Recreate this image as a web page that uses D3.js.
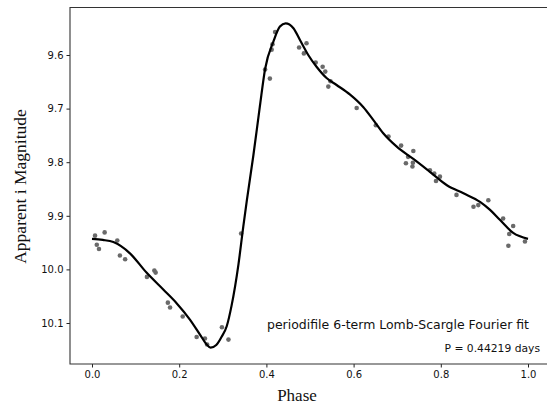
<!DOCTYPE html>
<html>
<head>
<meta charset="utf-8">
<script src="https://cdn.jsdelivr.net/npm/d3@7"></script>
<style>
  body { margin: 0; background: #fff; }
  svg { display: block; }
  .tick text { font-family: "DejaVu Sans", sans-serif; font-size: 10px; fill: #111; }
  .tick line { stroke: #222; }
</style>
</head>
<body>
<div id="chart"></div>
<script>
// observed phase / magnitude points
const obsPhase = [0.007, 0.011, 0.016, 0.029, 0.058, 0.064, 0.076, 0.126, 0.143, 0.146,
    0.174, 0.179, 0.208, 0.240, 0.259, 0.264, 0.298, 0.313, 0.342, 0.397,
    0.408, 0.412, 0.414, 0.420, 0.475, 0.492, 0.486, 0.513, 0.529, 0.535,
    0.542, 0.547, 0.607, 0.651, 0.680, 0.709, 0.737, 0.725, 0.720, 0.735,
    0.736, 0.775, 0.785, 0.798, 0.789, 0.836, 0.875, 0.886, 0.909, 0.943,
    0.966, 0.957, 0.955, 0.993];
const obsMag = [9.937, 9.954, 9.962, 9.931, 9.946, 9.974, 9.981, 10.014, 10.002, 10.006,
    10.062, 10.071, 10.088, 10.126, 10.129, 10.140, 10.108, 10.131, 9.933, 9.627,
    9.644, 9.590, 9.580, 9.557, 9.586, 9.578, 9.597, 9.614, 9.622, 9.631,
    9.659, 9.649, 9.699, 9.731, 9.752, 9.769, 9.779, 9.790, 9.802, 9.808,
    9.801, 9.815, 9.821, 9.827, 9.835, 9.861, 9.883, 9.880, 9.871, 9.905,
    9.919, 9.934, 9.956, 9.948];

// fitted curve
const fitPhase = [0.000, 0.025, 0.049, 0.087, 0.125, 0.164, 0.194, 0.225, 0.248, 0.262,
    0.272, 0.285, 0.297, 0.309, 0.320, 0.336, 0.347, 0.355, 0.370, 0.385,
    0.397, 0.416, 0.431, 0.444, 0.462, 0.477, 0.496, 0.515, 0.538, 0.561,
    0.592, 0.622, 0.645, 0.668, 0.699, 0.737, 0.775, 0.814, 0.852, 0.890,
    0.913, 0.936, 0.966, 1.000];
const fitMag = [9.943, 9.945, 9.949, 9.970, 10.006, 10.038, 10.063, 10.094, 10.122, 10.139,
    10.146, 10.141, 10.126, 10.106, 10.068, 9.990, 9.920, 9.872, 9.788, 9.696,
    9.626, 9.575, 9.547, 9.541, 9.550, 9.572, 9.600, 9.622, 9.643, 9.656,
    9.674, 9.697, 9.721, 9.746, 9.771, 9.794, 9.818, 9.843, 9.858, 9.874,
    9.889, 9.908, 9.932, 9.943];

const xTicks = [0.0, 0.2, 0.4, 0.6, 0.8, 1.0];
const yTicks = [9.6, 9.7, 9.8, 9.9, 10.0, 10.1];

const width = 547, height = 408;
const frame = { left: 70, top: 7.5, bottom: 364 };

const svg = d3.select("#chart").append("svg")
    .attr("width", width)
    .attr("height", height);

const x = d3.scaleLinear().domain([0, 1]).range([92, 528]);
const y = d3.scaleLinear().domain([9.6, 10.1]).range([55, 323]);

// axes
svg.append("g")
    .attr("transform", `translate(0,${frame.bottom})`)
    .call(d3.axisBottom(x).tickValues(xTicks).tickFormat(d3.format(".1f")).tickSize(3.5).tickPadding(3))
    .call(g => g.select(".domain").remove());

svg.append("g")
    .attr("transform", `translate(${frame.left},0)`)
    .call(d3.axisLeft(y).tickValues(yTicks).tickFormat(d3.format(".1f")).tickSize(3.5).tickPadding(3))
    .call(g => g.select(".domain").remove());

// spines (no right spine visible, plot runs off the edge)
svg.append("path")
    .attr("d", `M${width},${frame.top}H${frame.left}V${frame.bottom}H${width}`)
    .attr("fill", "none")
    .attr("stroke", "#333")
    .attr("stroke-width", 1.1);

// points
const obs = obsPhase.map((p, i) => ({ phase: p, mag: obsMag[i] }));
svg.append("g")
    .selectAll("circle")
    .data(obs)
    .join("circle")
    .attr("cx", d => x(d.phase))
    .attr("cy", d => y(d.mag))
    .attr("r", 2.3)
    .attr("fill", "#6a6a6a");

// fit line
const fit = fitPhase.map((p, i) => ({ phase: p, mag: fitMag[i] }));
const line = d3.line()
    .x(d => x(d.phase))
    .y(d => y(d.mag))
    .curve(d3.curveMonotoneX);

svg.append("path")
    .datum(fit)
    .attr("d", line)
    .attr("fill", "none")
    .attr("stroke", "#000")
    .attr("stroke-width", 2.2);

// annotations
svg.append("text")
    .attr("x", 267)
    .attr("y", 328.5)
    .attr("textLength", 262)
    .attr("lengthAdjust", "spacingAndGlyphs")
    .style("font-family", "DejaVu Sans, sans-serif")
    .style("font-size", "12.5px")
    .attr("fill", "#111")
    .text("periodifile 6-term Lomb-Scargle Fourier fit");

svg.append("text")
    .attr("x", 444.5)
    .attr("y", 351.5)
    .attr("textLength", 95.5)
    .attr("lengthAdjust", "spacingAndGlyphs")
    .style("font-family", "DejaVu Sans, sans-serif")
    .style("font-size", "10.5px")
    .attr("fill", "#111")
    .text("P = 0.44219 days");

// axis labels
svg.append("text")
    .attr("x", 297)
    .attr("y", 401)
    .attr("text-anchor", "middle")
    .style("font-family", "Liberation Serif, serif")
    .style("font-size", "17px")
    .attr("fill", "#111")
    .text("Phase");

svg.append("text")
    .attr("transform", "rotate(-90)")
    .attr("x", -186.5)
    .attr("y", 26)
    .attr("text-anchor", "middle")
    .style("font-family", "Liberation Serif, serif")
    .style("font-size", "17.5px")
    .attr("fill", "#111")
    .text("Apparent i Magnitude");
</script>
</body>
</html>
